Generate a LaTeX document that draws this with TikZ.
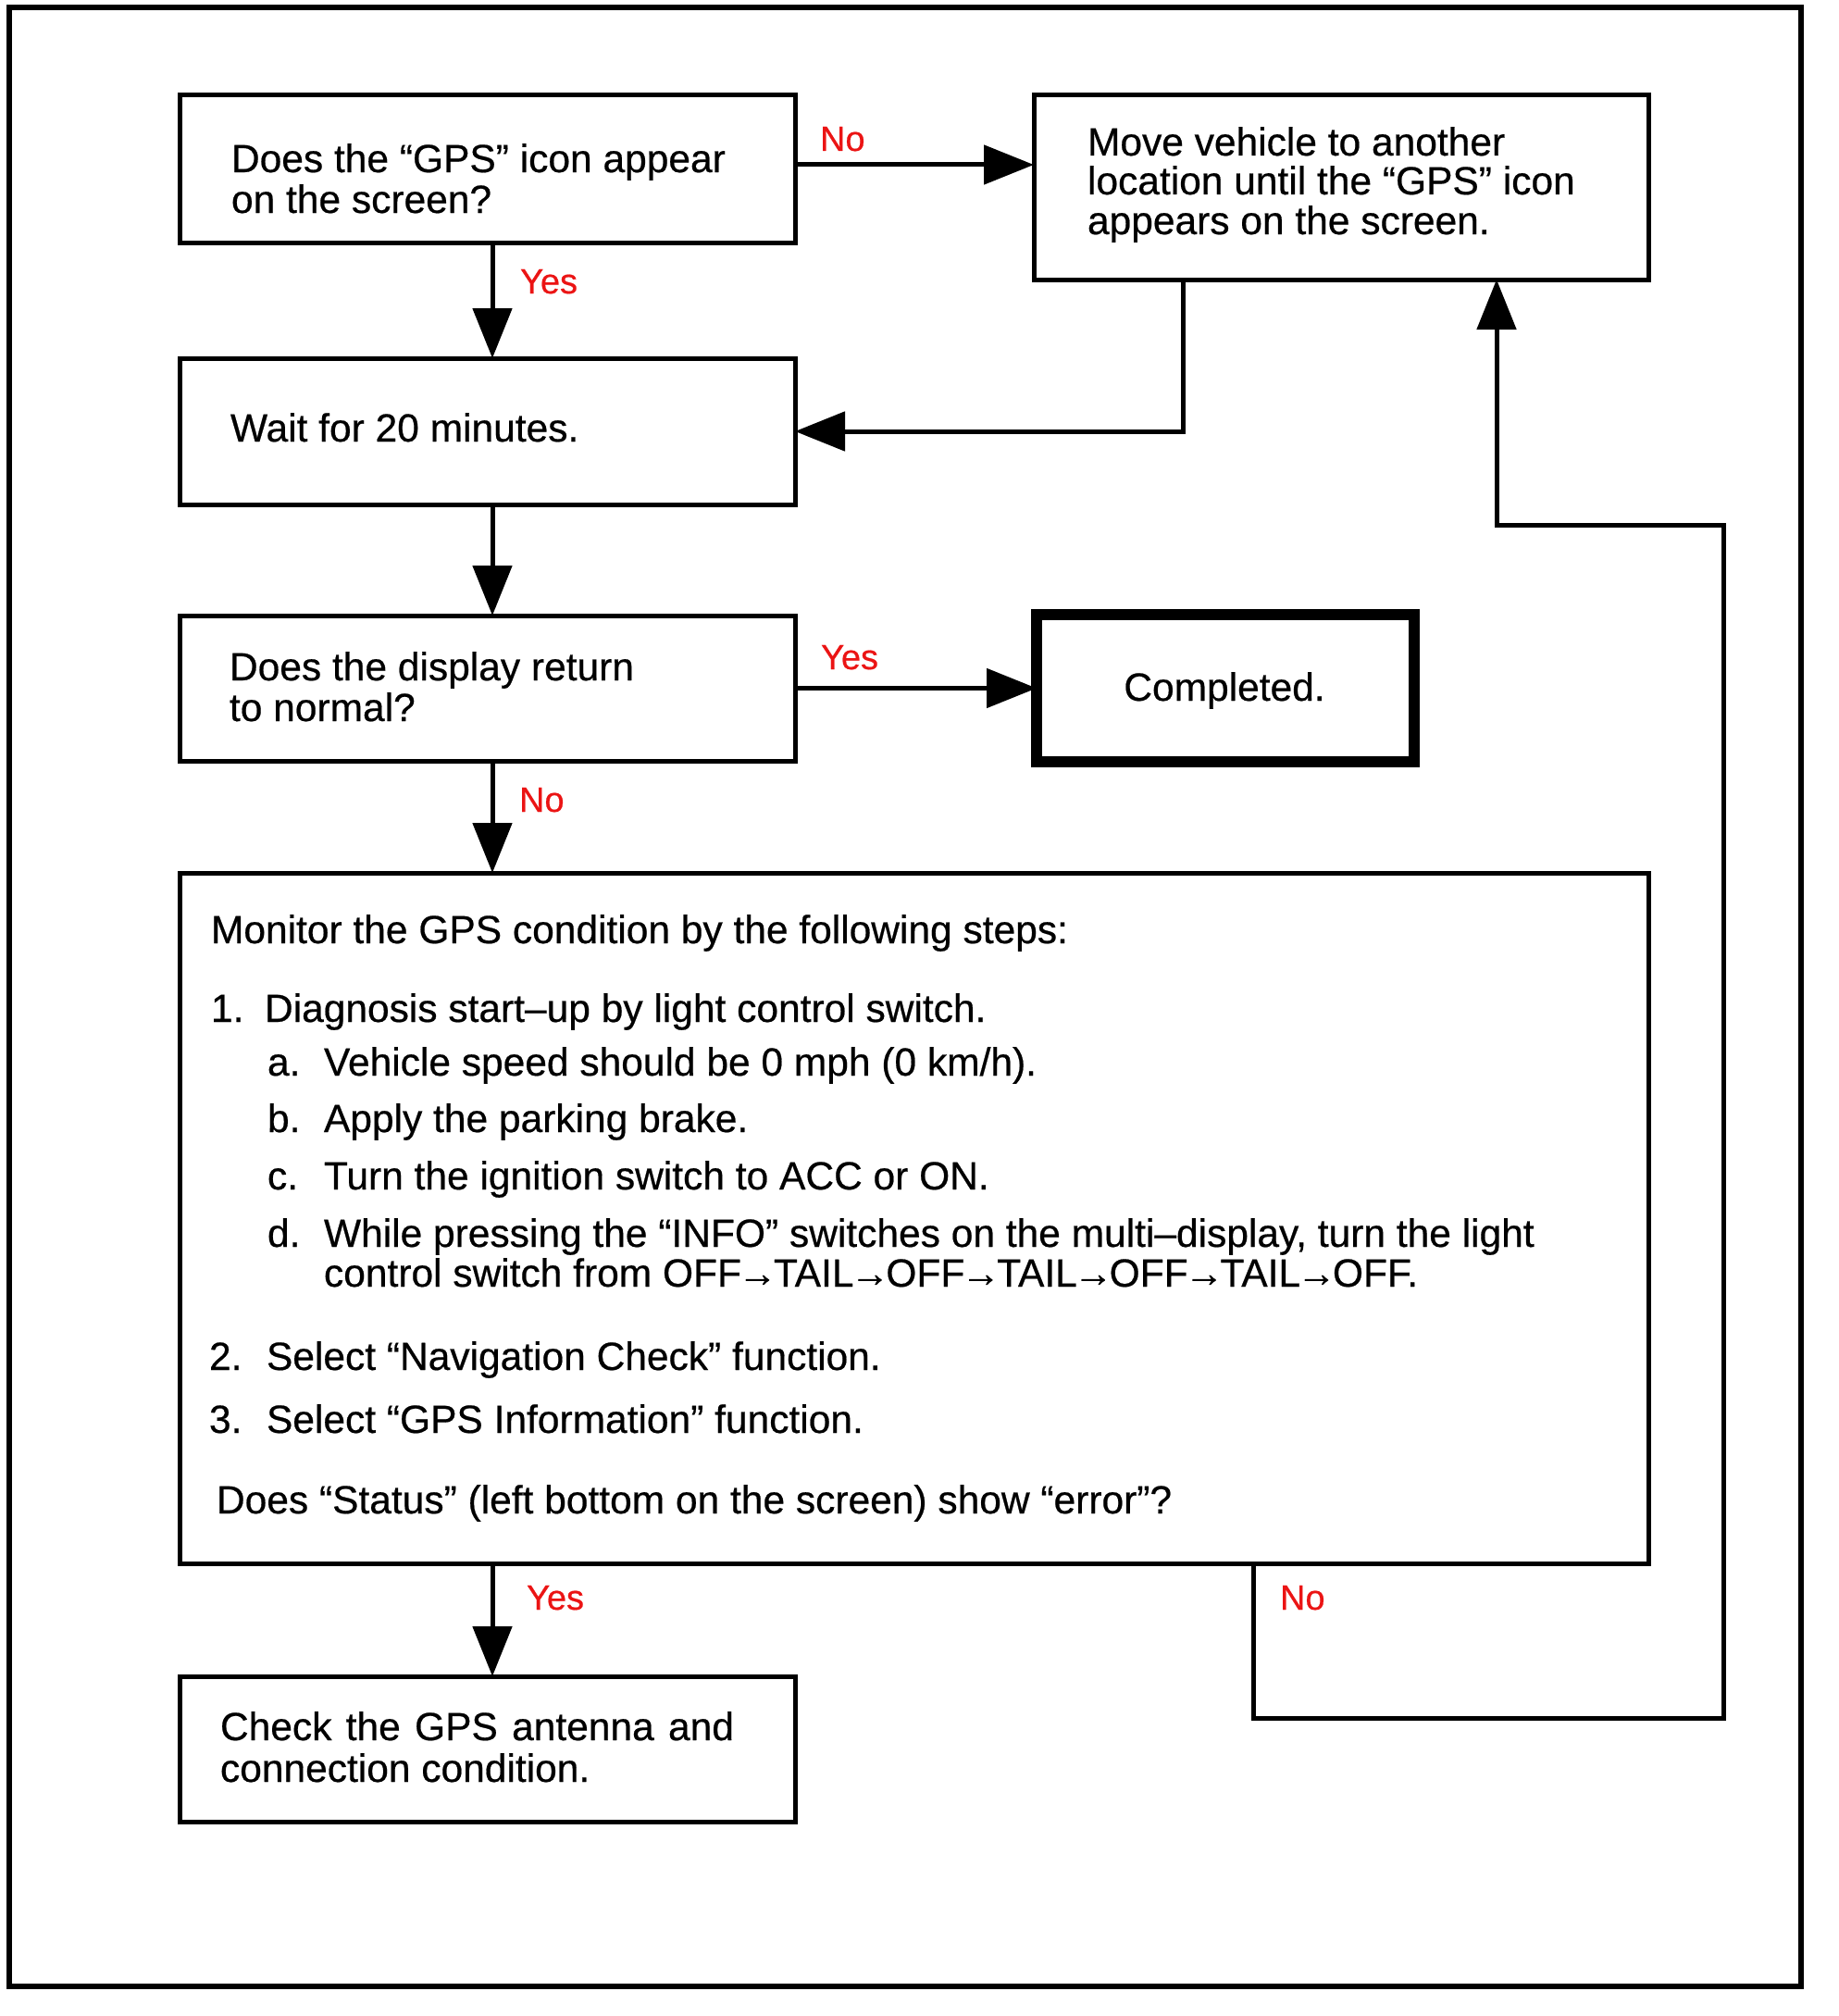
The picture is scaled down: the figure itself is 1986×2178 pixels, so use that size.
\documentclass[tikz,border=0pt]{standalone}
\usepackage{fontspec}
\setmainfont{Liberation Sans}[FakeBold=0.5]
\usetikzlibrary{arrows.meta}
\definecolor{lblred}{RGB}{235,20,20}
\newcommand\arw{\kern-0.09em→\kern-0.09em}
\begin{document}
\begin{tikzpicture}[x=1pt,y=-1pt,
  font=\fontsize{42.5}{50}\selectfont,
  box/.style={draw, rectangle, line width=5pt, inner sep=0pt, outer sep=0pt},
  txt/.style={anchor=base west, inner sep=0pt, outer sep=0pt},
  lbl/.style={anchor=base west, inner sep=0pt, outer sep=0pt, text=lblred, font=\fontsize{38}{40}\selectfont},
  conn/.style={line width=5pt},
  arr/.style={conn, -{Triangle[length=54pt,width=42pt]}}]
\useasboundingbox (0,0) rectangle (1986,2178);
% outer frame
\draw[line width=6pt] (10,8) rectangle (1946,2146);
% boxes
\node[box, minimum width=665pt, minimum height=159pt] (b1) at (526.5,182.5) {};
\node[box, minimum width=664pt, minimum height=199pt] (b2) at (1449,202.5) {};
\node[box, minimum width=665pt, minimum height=158pt] (b3) at (526.5,466) {};
\node[box, minimum width=665pt, minimum height=157pt] (b4) at (526.5,743.5) {};
\node[box, line width=12pt, minimum width=408pt, minimum height=159pt] (bc) at (1324,743.5) {};
\node[box, minimum width=1587pt, minimum height=746pt] (b5) at (987.5,1316) {};
\node[box, minimum width=665pt, minimum height=157pt] (b6) at (526.5,1889.5) {};
% texts
\node[txt] (t1a) at (250,186) {Does the “GPS” icon appear};
\node[txt] (t1b) at (250,230) {on the screen?};
\node[txt] (t2a) at (1175,168) {Move vehicle to another};
\node[txt] (t2b) at (1175,210) {location until the “GPS” icon};
\node[txt] (t2c) at (1175,253) {appears on the screen.};
\node[txt] (t3) at (249,477) {Wait for 20 minutes.};
\node[txt] (t4a) at (248,735) {Does the display return};
\node[txt] (t4b) at (248,779) {to normal?};
\node[anchor=base, inner sep=0pt] (tc) at (1323,757) {Completed.};
\node[txt] (t5) at (228,1019) {Monitor the GPS condition by the following steps:};
\node[txt] (n1) at (228,1104) {1.};
\node[txt] (s1) at (286,1104) {Diagnosis start–up by light control switch.};
\node[txt] (na) at (289,1162) {a.};
\node[txt] (sa) at (350,1162) {Vehicle speed should be 0 mph (0 km/h).};
\node[txt] (nb) at (289,1223) {b.};
\node[txt] (sb) at (350,1223) {Apply the parking brake.};
\node[txt] (nc) at (289,1285) {c.};
\node[txt] (sc) at (350,1285) {Turn the ignition switch to ACC or ON.};
\node[txt] (nd) at (289,1347) {d.};
\node[txt] (sd) at (350,1347) {While pressing the “INFO” switches on the multi–display, turn the light};
\node[txt] (sd2) at (350,1390) {control switch from OFF\arw TAIL\arw OFF\arw TAIL\arw OFF\arw TAIL\arw OFF.};
\node[txt] (n2) at (226,1480) {2.};
\node[txt] (s2) at (288,1480) {Select “Navigation Check” function.};
\node[txt] (n3) at (226,1548) {3.};
\node[txt] (s3) at (288,1548) {Select “GPS Information” function.};
\node[txt] (s4) at (234,1635) {Does “Status” (left bottom on the screen) show “error”?};
\node[txt] (t6a) at (238,1880) {\makebox[555pt][s]{Check the GPS antenna and}};
\node[txt] (t6b) at (238,1925) {connection condition.};
% helper coordinates
\coordinate (xa) at (532,0);
\coordinate (y1) at (0,178);
\coordinate (q1) at (1278,466);
\coordinate (p1) at (1354,1856);
\coordinate (p2) at (1862,1856);
\coordinate (p3) at (1862,567);
\coordinate (p4) at (1617,567);
% connectors
\draw[arr] (b1.east |- y1) -- (b2.west |- y1);
\draw[arr] (b1.south -| xa) -- (b3.north -| xa);
\draw[arr] (b2.south -| q1) -- (q1) -- (b3.east |- q1);
\draw[arr] (b3.south -| xa) -- (b4.north -| xa);
\draw[arr] (b4.east) -- (bc.west);
\draw[arr] (b4.south -| xa) -- (b5.north -| xa);
\draw[arr] (b5.south -| xa) -- (b6.north -| xa);
\draw[arr] (b5.south -| p1) -- (p1) -- (p2) -- (p3) -- (p4) -- (b2.south -| p4);
% labels
\node[lbl] (l1) at (886,163) {No};
\node[lbl] (l2) at (562,317) {Yes};
\node[lbl] (l3) at (887,723) {Yes};
\node[lbl] (l4) at (561,877) {No};
\node[lbl] (l5) at (569,1739) {Yes};
\node[lbl] (l6) at (1383,1739) {No};
\end{tikzpicture}
\end{document}
